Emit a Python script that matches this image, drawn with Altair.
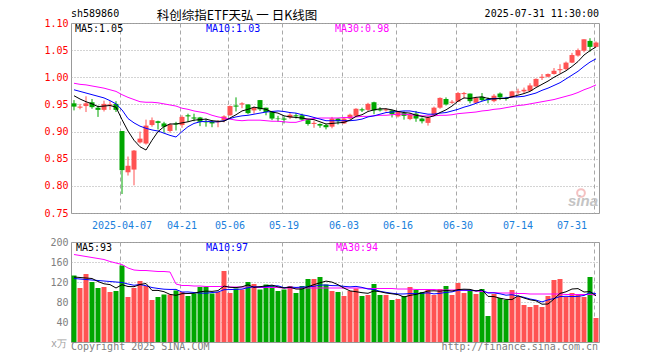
import altair as alt
import pandas as pd

# ---------------- data ----------------
month_days = [
    ("03", [25, 26, 27, 28, 31]),
    ("04", [1, 2, 3, 7, 8, 9, 10, 11, 14, 15, 16, 17, 18, 21, 22, 23, 24, 25, 28, 29, 30]),
    ("05", [6, 7, 8, 9, 12, 13, 14, 15, 16, 19, 20, 21, 22, 23, 26, 27, 28, 29, 30]),
    ("06", [3, 4, 5, 6, 9, 10, 11, 12, 13, 16, 17, 18, 19, 20, 23, 24, 25, 26, 27, 30]),
    ("07", [1, 2, 3, 4, 7, 8, 9, 10, 11, 14, 15, 16, 17, 18, 21, 22, 23, 24, 25, 28, 29, 30, 31]),
]
dates = ["2025-%s-%02d" % (m, d) for m, days in month_days for d in days]

opens = [0.952, 0.944, 0.947, 0.954, 0.944, 0.940, 0.948, 0.951, 0.901, 0.825,
         0.830, 0.880, 0.878, 0.912, 0.919, 0.915, 0.901, 0.915, 0.912, 0.930,
         0.926, 0.926, 0.918, 0.918, 0.917, 0.921, 0.930, 0.948, 0.950, 0.950,
         0.939, 0.958, 0.944, 0.936, 0.924, 0.924, 0.926, 0.930, 0.930, 0.921,
         0.914, 0.914, 0.912, 0.909, 0.924, 0.915, 0.924, 0.929, 0.941, 0.940,
         0.954, 0.941, 0.939, 0.939, 0.928, 0.934, 0.923, 0.933, 0.924, 0.916,
         0.930, 0.944, 0.960, 0.953, 0.955, 0.969, 0.970, 0.953, 0.964, 0.960,
         0.956, 0.970, 0.962, 0.963, 0.972, 0.974, 0.975, 0.983, 0.999, 1.001,
         1.006, 1.013, 1.015, 1.027, 1.040, 1.049, 1.067, 1.056]
highs = [0.958, 0.951, 0.965, 0.960, 0.948, 0.957, 0.956, 0.956, 0.901, 0.854,
         0.866, 0.900, 0.922, 0.926, 0.920, 0.918, 0.915, 0.918, 0.930, 0.933,
         0.933, 0.927, 0.924, 0.921, 0.921, 0.930, 0.948, 0.963, 0.954, 0.950,
         0.946, 0.958, 0.944, 0.938, 0.929, 0.928, 0.934, 0.934, 0.933, 0.923,
         0.920, 0.915, 0.914, 0.927, 0.925, 0.926, 0.933, 0.943, 0.944, 0.953,
         0.955, 0.945, 0.943, 0.940, 0.938, 0.937, 0.934, 0.938, 0.926, 0.929,
         0.946, 0.963, 0.963, 0.958, 0.973, 0.973, 0.970, 0.964, 0.971, 0.963,
         0.969, 0.972, 0.964, 0.975, 0.979, 0.981, 0.989, 0.998, 1.006, 1.007,
         1.017, 1.024, 1.029, 1.045, 1.053, 1.070, 1.072, 1.066]
lows = [0.939, 0.941, 0.936, 0.942, 0.927, 0.937, 0.940, 0.936, 0.785, 0.819,
        0.801, 0.878, 0.876, 0.909, 0.904, 0.898, 0.898, 0.902, 0.907, 0.918,
        0.919, 0.910, 0.909, 0.908, 0.908, 0.917, 0.929, 0.937, 0.943, 0.932,
        0.933, 0.938, 0.930, 0.921, 0.918, 0.915, 0.923, 0.924, 0.920, 0.911,
        0.907, 0.907, 0.904, 0.906, 0.913, 0.914, 0.923, 0.928, 0.936, 0.938,
        0.932, 0.937, 0.937, 0.926, 0.926, 0.922, 0.921, 0.918, 0.915, 0.911,
        0.929, 0.942, 0.948, 0.951, 0.955, 0.961, 0.952, 0.952, 0.956, 0.952,
        0.954, 0.958, 0.957, 0.962, 0.968, 0.971, 0.974, 0.983, 0.995, 1.000,
        1.005, 1.007, 1.013, 1.026, 1.038, 1.046, 1.047, 1.055]
closes = [0.946, 0.946, 0.952, 0.945, 0.940, 0.951, 0.950, 0.940, 0.829, 0.837,
          0.865, 0.887, 0.911, 0.921, 0.916, 0.909, 0.913, 0.913, 0.927, 0.928,
          0.924, 0.918, 0.917, 0.915, 0.919, 0.928, 0.947, 0.946, 0.952, 0.934,
          0.944, 0.941, 0.936, 0.924, 0.923, 0.922, 0.931, 0.928, 0.922, 0.914,
          0.916, 0.911, 0.908, 0.924, 0.919, 0.924, 0.931, 0.942, 0.939, 0.951,
          0.939, 0.939, 0.941, 0.932, 0.936, 0.929, 0.931, 0.924, 0.919, 0.926,
          0.944, 0.962, 0.950, 0.955, 0.971, 0.971, 0.956, 0.962, 0.958, 0.958,
          0.966, 0.963, 0.960, 0.974, 0.974, 0.977, 0.985, 0.997, 1.001, 1.006,
          1.012, 1.015, 1.027, 1.041, 1.050, 1.070, 1.056, 1.064]
ma5 = [0.966, 0.960, 0.955, 0.951, 0.946, 0.947, 0.948, 0.945, 0.922, 0.901,
       0.884, 0.872, 0.866, 0.884, 0.900, 0.909, 0.914, 0.914, 0.916, 0.918,
       0.921, 0.922, 0.923, 0.920, 0.919, 0.919, 0.925, 0.931, 0.938, 0.941,
       0.945, 0.943, 0.941, 0.936, 0.934, 0.929, 0.927, 0.926, 0.925, 0.923,
       0.922, 0.918, 0.914, 0.915, 0.916, 0.917, 0.921, 0.928, 0.931, 0.937,
       0.940, 0.942, 0.942, 0.940, 0.937, 0.935, 0.934, 0.930, 0.928, 0.926,
       0.929, 0.935, 0.940, 0.947, 0.956, 0.962, 0.961, 0.963, 0.964, 0.961,
       0.960, 0.961, 0.961, 0.964, 0.967, 0.970, 0.974, 0.981, 0.987, 0.993,
       1.000, 1.006, 1.012, 1.020, 1.029, 1.041, 1.049, 1.056]
ma10 = [0.977, 0.974, 0.971, 0.968, 0.965, 0.962, 0.957, 0.951, 0.940, 0.924,
        0.916, 0.910, 0.906, 0.903, 0.901, 0.897, 0.893, 0.890, 0.900, 0.909,
        0.915, 0.918, 0.919, 0.918, 0.918, 0.920, 0.924, 0.927, 0.929, 0.930,
        0.932, 0.934, 0.936, 0.937, 0.938, 0.937, 0.935, 0.934, 0.931, 0.929,
        0.926, 0.923, 0.920, 0.920, 0.920, 0.920, 0.920, 0.921, 0.923, 0.927,
        0.929, 0.932, 0.935, 0.936, 0.937, 0.938, 0.938, 0.936, 0.934, 0.932,
        0.932, 0.934, 0.935, 0.938, 0.941, 0.945, 0.948, 0.952, 0.956, 0.959,
        0.961, 0.961, 0.962, 0.964, 0.964, 0.965, 0.968, 0.971, 0.976, 0.980,
        0.985, 0.990, 0.997, 1.004, 1.011, 1.020, 1.028, 1.034]
ma30 = [0.989, 0.987, 0.986, 0.984, 0.982, 0.980, 0.977, 0.974, 0.968, 0.963,
        0.959, 0.955, 0.954, 0.954, 0.953, 0.951, 0.949, 0.947, 0.943, 0.941,
        0.938, 0.936, 0.934, 0.930, 0.927, 0.925, 0.923, 0.921, 0.920, 0.921,
        0.921, 0.921, 0.920, 0.919, 0.919, 0.918, 0.917, 0.917, 0.920, 0.923,
        0.924, 0.925, 0.925, 0.925, 0.925, 0.926, 0.926, 0.927, 0.928, 0.928,
        0.929, 0.930, 0.930, 0.931, 0.932, 0.932, 0.931, 0.930, 0.929, 0.929,
        0.929, 0.930, 0.930, 0.931, 0.933, 0.934, 0.935, 0.936, 0.938, 0.939,
        0.941, 0.942, 0.944, 0.946, 0.948, 0.949, 0.951, 0.953, 0.955, 0.957,
        0.959, 0.962, 0.965, 0.968, 0.972, 0.977, 0.981, 0.986]
volumes = [133, 108, 136, 120, 108, 110, 100, 102, 153, 90,
           108, 122, 112, 84, 90, 95, 95, 103, 100, 92,
           97, 110, 110, 97, 100, 142, 98, 107, 105, 120,
           116, 105, 115, 113, 102, 105, 112, 98, 112, 126,
           126, 130, 115, 102, 100, 92, 102, 107, 92, 94,
           116, 94, 94, 84, 86, 92, 110, 104, 100, 104,
           94, 106, 112, 94, 118, 98, 104, 96, 106, 52,
           96, 88, 84, 104, 90, 74, 70, 74, 70, 92,
           124, 126, 90, 98, 96, 90, 130, 48]
vol_ma30 = [175, 173, 171, 169, 167, 165, 161, 158, 155, 148,
            144, 143, 143, 142, 141, 141, 140, 116, 113, 113,
            112, 112, 111, 111, 111, 111, 110, 110, 110, 110,
            110, 109, 109, 109, 109, 108, 108, 108, 108, 108,
            108, 108, 108, 108, 108, 108, 108, 108, 108, 107,
            107, 107, 107, 107, 106, 106, 106, 105, 105, 105,
            105, 104, 104, 104, 104, 103, 103, 102, 101, 99,
            99, 98, 98, 98, 97, 97, 96, 96, 96, 96,
            96, 96, 95, 95, 95, 95, 95, 94]
vol_ma5_head = [130, 129, 128, 127]
vol_ma10_head = [127, 126, 125, 124, 123, 122, 121, 120, 119]

price_ticks = [0.75, 0.80, 0.85, 0.90, 0.95, 1.00, 1.05, 1.10]
vol_ticks = [40, 80, 120, 160, 200]
date_ticks = ["2025-04-07", "2025-04-21", "2025-05-06", "2025-05-19", "2025-06-03",
              "2025-06-16", "2025-06-30", "2025-07-14", "2025-07-31"]

code_text = "sh589860"
title_text = "科创综指ETF天弘 一 日K线图"
time_text = "2025-07-31 11:30:00"
price_ma_labels = ["MA5:1.05", "MA10:1.03", "MA30:0.98"]
vol_ma_labels = ["MA5:93", "MA10:97", "MA30:94"]
unit_text = "x万"
copyright_text = "Copyright 2025 SINA.COM"
url_text = "http://finance.sina.com.cn"

# ---------------- table ----------------
df = pd.DataFrame({"d": dates, "o": opens, "h": highs, "l": lows, "c": closes,
                   "ma5": ma5, "ma10": ma10, "ma30": ma30,
                   "v": volumes, "vma30": vol_ma30})
vma5 = df["v"].rolling(5).mean()
vma5.iloc[:4] = vol_ma5_head
vma10 = df["v"].rolling(10).mean()
vma10.iloc[:9] = vol_ma10_head
df["vma5"] = vma5
df["vma10"] = vma10
one = pd.DataFrame({"k": [0]})

# ---------------- style ----------------
RED = "#ff5252"
GREEN = "#00a600"
GRID = "#a8a8a8"
BORDER = "#999999"
MONO = "DejaVu Sans Mono"
CJK = "Noto Sans CJK SC"
W, H1, H2 = 528, 190, 100

updown = alt.condition("datum.c >= datum.o", alt.value(RED), alt.value(GREEN))
xscale = alt.Scale(paddingInner=0, paddingOuter=0)


def label(txt, x, y, color="#000000", align="left", font=MONO, size=10, **kw):
    return alt.Chart(one).mark_text(text=txt, align=align, baseline="middle", font=font,
                                    fontSize=size, color=color, **kw).encode(
        x=alt.value(x), y=alt.value(y))


price_x_axis = alt.Axis(values=date_ticks,
                        labelExpr="datum.value == '2025-04-07' ? datum.value : substring(datum.value, 5)",
                        labelColor="#1a80dc", labelFont=MONO, labelFontSize=10, labelPadding=7,
                        labelAngle=0, ticks=False, domain=False, grid=True, gridColor=GRID,
                        gridDash=[4, 3], bandPosition=0.25, labelFlush=10, labelFlushOffset=-9,
                        labelOverlap=False, title=None)
vol_x_axis = alt.Axis(values=date_ticks, labels=False, ticks=False, domain=False, grid=True,
                      gridColor=GRID, gridDash=[4, 3], bandPosition=0.25, title=None)
price_y_axis = alt.Axis(values=price_ticks, tickCount=20, format=".2f", labelColor="#ff0000",
                        labelFont=MONO, labelFontSize=10, labelPadding=3, ticks=False,
                        domain=False, grid=True, gridColor=GRID, gridDash=[1, 2],
                        labelFlush=False, labelOverlap=False, title=None)
vol_y_axis = alt.Axis(values=vol_ticks, tickCount=20, format="d", labelColor="#808080",
                      labelFont=MONO, labelFontSize=10, labelPadding=3, ticks=False,
                      domain=False, grid=True, gridColor=GRID, gridDash=[1, 2],
                      labelFlush=False, labelOverlap=False, title=None)

# ---------------- price panel ----------------
pbase = alt.Chart(df).encode(x=alt.X("d:O", sort=None, scale=xscale, axis=price_x_axis))
pscale = alt.Scale(domain=[0.75, 1.10], zero=False, nice=False)
wick = pbase.mark_rule(strokeWidth=1).encode(
    y=alt.Y("l:Q", scale=pscale, axis=price_y_axis, title=None),
    y2="h:Q", color=updown)
body = pbase.mark_bar(width=5).encode(
    y=alt.Y("o:Q", scale=pscale, axis=price_y_axis, title=None), y2="c:Q", color=updown)
l5 = pbase.mark_line(color="#000000", strokeWidth=1).encode(
    y=alt.Y("ma5:Q", scale=pscale, axis=price_y_axis, title=None))
l10 = pbase.mark_line(color="#0000ff", strokeWidth=1).encode(
    y=alt.Y("ma10:Q", scale=pscale, axis=price_y_axis, title=None))
l30 = pbase.mark_line(color="#ff00ff", strokeWidth=1).encode(
    y=alt.Y("ma30:Q", scale=pscale, axis=price_y_axis, title=None))

bound = alt.Chart(one).mark_rule(opacity=0).encode(x=alt.value(-62), x2=alt.value(0), y=alt.value(-14))
eye = alt.Chart(one).mark_point(shape="circle", size=60, filled=False, stroke="#f2a8a8",
                                strokeWidth=2).encode(x=alt.value(510), y=alt.value(170))

price = alt.layer(
    wick, body, l30, l10, l5,
    bound,
    label(code_text, 0, -9),
    label(title_text, 166, -7.5, align="center", font=CJK, size=12.5),
    label(time_text, 528, -9, align="right"),
    label(price_ma_labels[0], 4, 5.5),
    label(price_ma_labels[1], 135, 5.5, color="#0000ff"),
    label(price_ma_labels[2], 264, 5.5, color="#ff00ff"),
    eye,
    label("sina", 527, 178, color="#c4c4c4", align="right", font="Liberation Sans", size=15,
          fontStyle="italic", fontWeight="bold"),
).properties(width=W, height=H1)

# ---------------- volume panel ----------------
vbase = alt.Chart(df).encode(x=alt.X("d:O", sort=None, scale=xscale, axis=vol_x_axis))
vscale = alt.Scale(domain=[0, 200], nice=False)
vbars = vbase.mark_bar(width=5).encode(
    y=alt.Y("v:Q", scale=vscale, axis=vol_y_axis, title=None), color=updown)
v5 = vbase.mark_line(color="#000000", strokeWidth=1).encode(
    y=alt.Y("vma5:Q", scale=vscale, axis=vol_y_axis, title=None))
v10 = vbase.mark_line(color="#0000ff", strokeWidth=1).encode(
    y=alt.Y("vma10:Q", scale=vscale, axis=vol_y_axis, title=None))
v30 = vbase.mark_line(color="#ff00ff", strokeWidth=1).encode(
    y=alt.Y("vma30:Q", scale=vscale, axis=vol_y_axis, title=None))

volume = alt.layer(
    vbars, v30, v10, v5,
    label(vol_ma_labels[0], 5, 5.5),
    label(vol_ma_labels[1], 135, 5.5, color="#0000ff"),
    label(vol_ma_labels[2], 265, 5.5, color="#ff00ff"),
    label(unit_text, -4, 102, color="#a0a0a0", align="right"),
    label(copyright_text, 0, 105, color="#808080"),
    label(url_text, 527, 105, color="#808080", align="right"),
).properties(width=W, height=H2)

chart = alt.vconcat(price, volume, spacing=29, bounds="flush").properties(
    padding=0, background="#ffffff"
).configure_view(stroke=BORDER, strokeWidth=1)

chart.save("out.html", embed_options={"renderer": "svg", "actions": False})
